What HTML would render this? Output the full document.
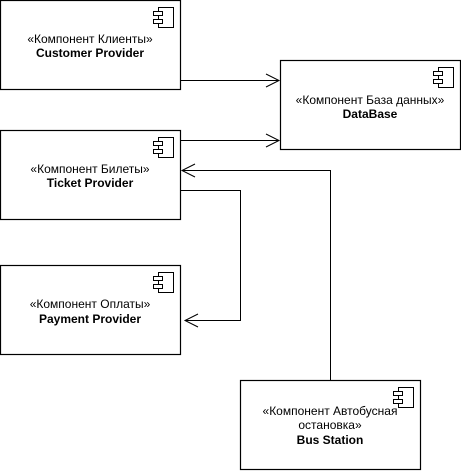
<!DOCTYPE html>
<html><head><meta charset="utf-8"><style>
html,body{margin:0;padding:0;background:#fff;}
svg{display:block;}
text{font-family:"Liberation Sans",Arial,sans-serif;font-size:12px;fill:#000;}
.b{font-weight:bold;}
</style></head><body>
<svg width="461" height="471" viewBox="0 0 461 471" xmlns="http://www.w3.org/2000/svg">
<defs>
<g id="ic" fill="#fff" stroke="#000" stroke-width="1">
<rect x="5" y="0" width="15" height="20"/>
<rect x="0" y="4" width="9" height="4"/>
<rect x="0" y="12" width="9" height="4"/>
</g>
</defs>
<g fill="#fff" stroke="#000" stroke-width="1.2">
<rect x="0.5" y="0.5" width="180" height="89"/>
<rect x="280.5" y="60.5" width="180" height="89"/>
<rect x="0.5" y="130.5" width="180" height="89"/>
<rect x="0.5" y="265.5" width="180" height="89"/>
<rect x="240.5" y="380.5" width="180" height="89"/>
</g>
<use href="#ic" x="153.5" y="7.5"/>
<use href="#ic" x="433.5" y="67.5"/>
<use href="#ic" x="153.5" y="137.5"/>
<use href="#ic" x="153.5" y="272.5"/>
<use href="#ic" x="393.5" y="387.5"/>
<g fill="none" stroke="#000" stroke-width="1">
<path d="M181 80.5H279"/><path d="M266 74L279 80.5L266 87"/>
<path d="M181 140.5H279"/><path d="M266 134L279 140.5L266 147"/>
<path d="M330.5 380V170.5H182"/><path d="M195 164L182 170.5L195 177"/>
<path d="M181 190.5H240.5V320.5H185"/><path d="M198 314L185 320.5L198 327"/>
</g>
<text x="90" y="43" text-anchor="middle">«Компонент Клиенты»</text>
<text x="90" y="57" text-anchor="middle" class="b">Customer Provider</text>
<text x="370" y="104" text-anchor="middle">«Компонент База данных»</text>
<text x="370" y="118" text-anchor="middle" class="b">DataBase</text>
<text x="90" y="173" text-anchor="middle">«Компонент Билеты»</text>
<text x="90" y="187" text-anchor="middle" class="b">Ticket Provider</text>
<text x="90" y="308" text-anchor="middle">«Компонент Оплаты»</text>
<text x="90" y="323" text-anchor="middle" class="b">Payment Provider</text>
<text x="330" y="415" text-anchor="middle">«Компонент Автобусная</text>
<text x="330" y="429" text-anchor="middle">остановка»</text>
<text x="330" y="444" text-anchor="middle" class="b">Bus Station</text>
</svg>
</body></html>
